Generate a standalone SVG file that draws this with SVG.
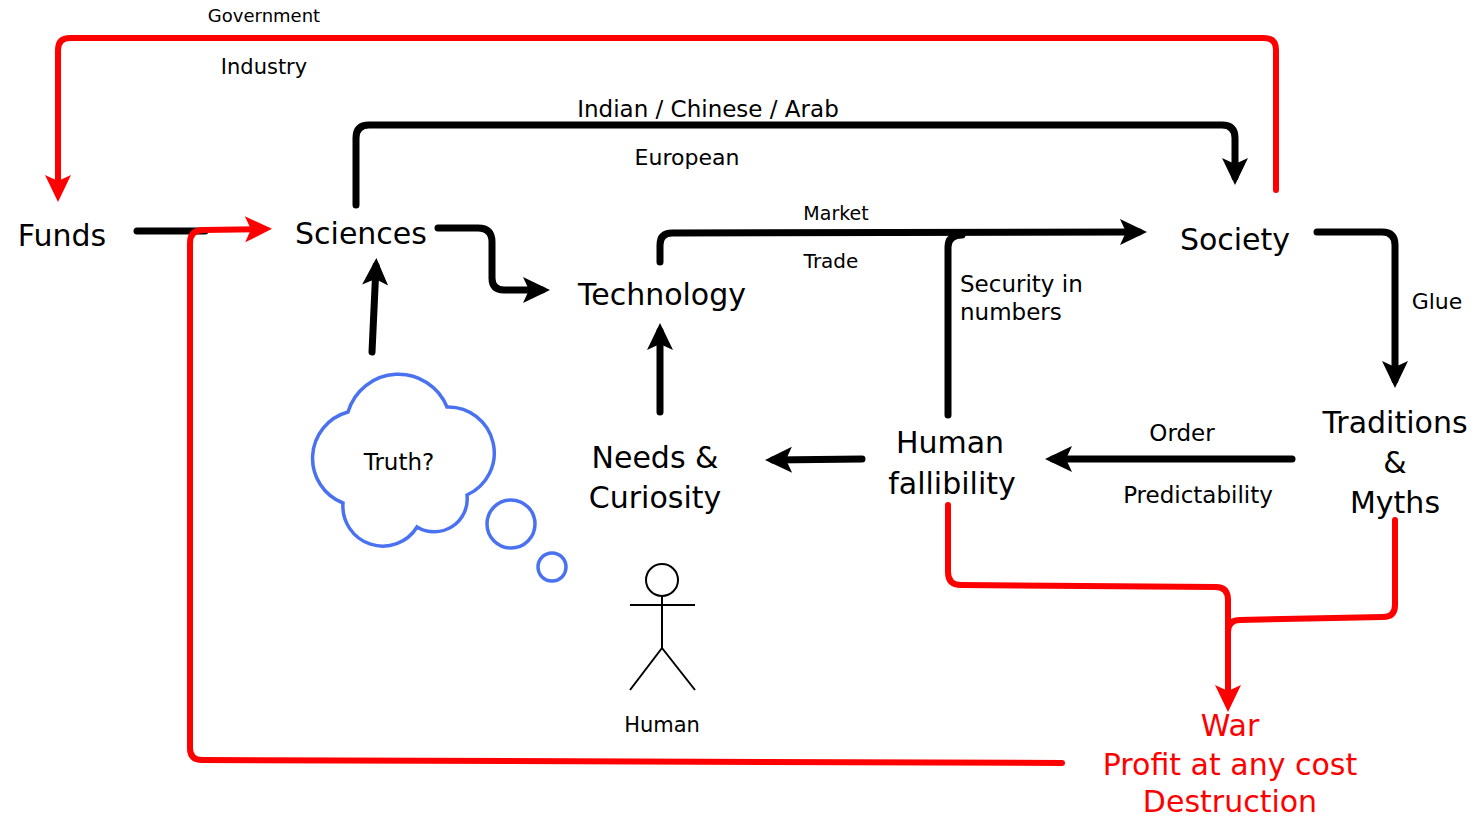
<svg xmlns="http://www.w3.org/2000/svg" width="1483" height="822" viewBox="0 0 1483 822">
<style>
text{font-family:"DejaVu Sans","Liberation Sans",sans-serif;fill:#000}
.big{font-size:30px}
.sm{font-size:22px}
.red{fill:#ff0000}
.bl{fill:none;stroke:#000;stroke-width:7;stroke-linecap:round;stroke-linejoin:round}
.rd{fill:none;stroke:#ff0000;stroke-width:6;stroke-linecap:round;stroke-linejoin:round}
.cl{fill:none;stroke:#4a72f0;stroke-width:3.5}
.fig{fill:none;stroke:#000;stroke-width:2}
</style>
<defs>
<marker id="ab" viewBox="0 0 32 32" refX="22" refY="16" markerWidth="32" markerHeight="32" markerUnits="userSpaceOnUse" orient="auto">
<path d="M3,3 L30,16 L3,29 L9,16 Z" fill="#000"/>
</marker>
<marker id="ar" viewBox="0 0 32 32" refX="22" refY="16" markerWidth="32" markerHeight="32" markerUnits="userSpaceOnUse" orient="auto">
<path d="M3,3 L30,16 L3,29 L9,16 Z" fill="#ff0000"/>
</marker>
</defs>
<g id="connectors">
<path class="bl" d="M137,231 L205,231"/>
<path class="rd" d="M1276,190 L1276,50 Q1276,38 1264,38 L70,38 Q58,38 58,50 L58,194" marker-end="url(#ar)"/>
<path class="rd" d="M1062,763 L202,760 Q190,760 190,748 L190,243 Q190,230 203,230 L264,229" marker-end="url(#ar)"/>
<path class="bl" d="M356,205 L356,138 Q356,125 369,125 L1222,125 Q1235,125 1235,138 L1235,177" marker-end="url(#ab)"/>
<path class="bl" d="M438,228 L478,228 Q492,228 492,242 L492,278 Q492,290 504,290 L542,290" marker-end="url(#ab)"/>
<path class="bl" d="M372,352 L376,266" marker-end="url(#ab)"/>
<path class="bl" d="M660,412 L660,331" marker-end="url(#ab)"/>
<path class="bl" d="M660,262 L660,245 Q660,233 672,233 L1139,232" marker-end="url(#ab)"/>
<path class="bl" d="M948,415 L948,247 Q948,235 962,235"/>
<path class="bl" d="M1317,232 L1382,232 Q1395,232 1395,245 L1395,380" marker-end="url(#ab)"/>
<path class="bl" d="M1292,459 L1053,459" marker-end="url(#ab)"/>
<path class="bl" d="M862,459 L773,460" marker-end="url(#ab)"/>
<path class="rd" d="M948,505 L948,572 Q948,585 961,585 L1216,587 Q1228,587 1228,600 L1228,704" marker-end="url(#ar)"/>
<path class="rd" d="M1395,520 L1395,605 Q1395,617 1383,617 L1240,620 Q1228,620 1228,632"/>
</g>
<text x="264" y="22" text-anchor="middle" style="font-size:18px">Government</text>
<text x="264" y="74" text-anchor="middle" style="font-size:21px">Industry</text>
<text x="708" y="117" text-anchor="middle" style="font-size:23px">Indian / Chinese / Arab</text>
<text x="687" y="165" text-anchor="middle" class="sm">European</text>
<text x="836" y="220" text-anchor="middle" style="font-size:19px">Market</text>
<text x="831" y="268" text-anchor="middle" style="font-size:20px">Trade</text>
<text x="960" y="292" style="font-size:23px">Security in</text>
<text x="960" y="320" style="font-size:23px">numbers</text>
<text x="1437" y="309" text-anchor="middle" class="sm">Glue</text>
<text x="1182" y="441" text-anchor="middle" style="font-size:23px">Order</text>
<text x="1198" y="503" text-anchor="middle" style="font-size:23px">Predictability</text>
<g id="funds"><text x="62" y="246" text-anchor="middle" class="big">Funds</text></g>
<g id="sciences"><text x="361" y="244" text-anchor="middle" class="big">Sciences</text></g>
<g id="technology"><text x="662" y="305" text-anchor="middle" class="big">Technology</text></g>
<g id="society"><text x="1235" y="250" text-anchor="middle" class="big">Society</text></g>
<g id="traditions"><text x="1395" y="433" text-anchor="middle" class="big">Traditions</text><text x="1395" y="473" text-anchor="middle" class="big">&amp;</text><text x="1395" y="513" text-anchor="middle" class="big">Myths</text></g>
<g id="fallibility"><text x="950" y="453" text-anchor="middle" class="big">Human</text><text x="952" y="494" text-anchor="middle" class="big">fallibility</text></g>
<g id="needs"><text x="655" y="468" text-anchor="middle" class="big">Needs &amp;</text><text x="655" y="508" text-anchor="middle" class="big">Curiosity</text></g>
<g id="truth">
<path class="cl" d="M348,412 A52.5,52.5 0 0 1 447,407 A46,46 0 0 1 467,495 A33,33 0 0 1 417,527 A40,40 0 0 1 343,503 A48,48 0 0 1 348,412 Z"/>
<circle class="cl" cx="511" cy="524" r="24"/>
<circle class="cl" cx="552" cy="567" r="14"/>
<text x="399" y="470" text-anchor="middle" style="font-size:23px">Truth?</text>
</g>
<g id="human">
<circle class="fig" cx="662" cy="580" r="16"/>
<path class="fig" d="M662,596 L662,648 M630,605 L695,605 M662,648 L630,690 M662,648 L695,690"/>
<text x="662" y="732" text-anchor="middle" style="font-size:21px">Human</text>
</g>
<g id="war">
<text x="1230" y="736" text-anchor="middle" class="big red">War</text>
<text x="1230" y="775" text-anchor="middle" class="big red">Profit at any cost</text>
<text x="1230" y="812" text-anchor="middle" class="big red">Destruction</text>
</g>
</svg>
